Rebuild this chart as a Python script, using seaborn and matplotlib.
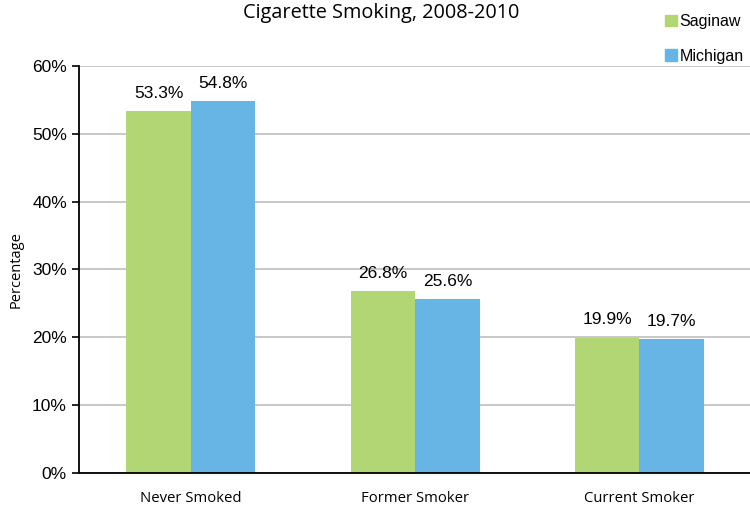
import pandas as pd
import matplotlib
matplotlib.use("Agg")
import matplotlib.pyplot as plt
import matplotlib.patches as mpatches
import seaborn as sns

# data
categories = ["Never Smoked", "Former Smoker", "Current Smoker"]
regions = ["Saginaw", "Michigan"]
saginaw = [53.3, 26.8, 19.9]
michigan = [54.8, 25.6, 19.7]
colors = ["#B3D675", "#66B5E5"]

df = pd.DataFrame({
    "category": categories * 2,
    "region": ["Saginaw"] * 3 + ["Michigan"] * 3,
    "value": saginaw + michigan,
})

sns.set_style("white")
plt.rcParams["font.family"] = ["Liberation Sans", "DejaVu Sans"]
plt.rcParams["text.color"] = "black"
plt.rcParams["xtick.color"] = "black"
plt.rcParams["ytick.color"] = "black"
plt.rcParams["axes.labelcolor"] = "black"

fig = plt.figure(figsize=(7.5, 5.07), dpi=100)
ax = fig.add_axes([0.105, 0.067, 0.897, 0.803])

sns.barplot(data=df, x="category", y="value", hue="region", hue_order=regions,
            palette=colors, width=0.575, saturation=1, linewidth=0,
            ax=ax, legend=False)

# value labels above each bar
for p in ax.patches:
    h = p.get_height()
    if h > 0:
        ax.text(p.get_x() + p.get_width() / 2, h + 2.0, f"{h:.1f}%",
                ha="center", va="baseline", fontsize=12.5)

ax.set_ylim(0, 60)
ax.set_xlim(-0.5, 2.5)
ax.set_yticks(range(0, 61, 10))
ax.set_yticklabels([f"{v}%" for v in range(0, 61, 10)], fontsize=12.5)
ax.yaxis.grid(True, color="#BFBFBF", linewidth=1.2)
ax.set_axisbelow(True)

ax.set_xticks(range(3))
ax.set_xticklabels(categories, fontsize=10.7, family="Open Sans")
ax.set_xticks([0.5, 1.5], minor=True)
ax.tick_params(axis="x", which="major", length=0, pad=13)
ax.tick_params(axis="x", which="minor", length=6, width=1.2, direction="in", color="black")
ax.tick_params(axis="y", length=5, width=1.2, direction="out", color="black", left=True)

for s in ["top", "right"]:
    ax.spines[s].set_visible(False)
for s in ["left", "bottom"]:
    ax.spines[s].set_color("black")
    ax.spines[s].set_linewidth(1.3)

ax.set_xlabel("")
ax.set_ylabel("Percentage", fontsize=10.5, family="Open Sans", labelpad=6)

fig.text(0.508, 0.974, "Cigarette Smoking, 2008-2010", ha="center", va="center",
         fontsize=14.3, family="Open Sans")

handles = [mpatches.Patch(color=c, label=r) for r, c in zip(regions, colors)]
fig.legend(handles=handles, loc="upper left", bbox_to_anchor=(0.868, 1.0),
           frameon=False, fontsize=11.5, handlelength=0.7, handleheight=0.7,
           handletextpad=0.2, labelspacing=1.2)

fig.savefig("out.png", dpi=100)
